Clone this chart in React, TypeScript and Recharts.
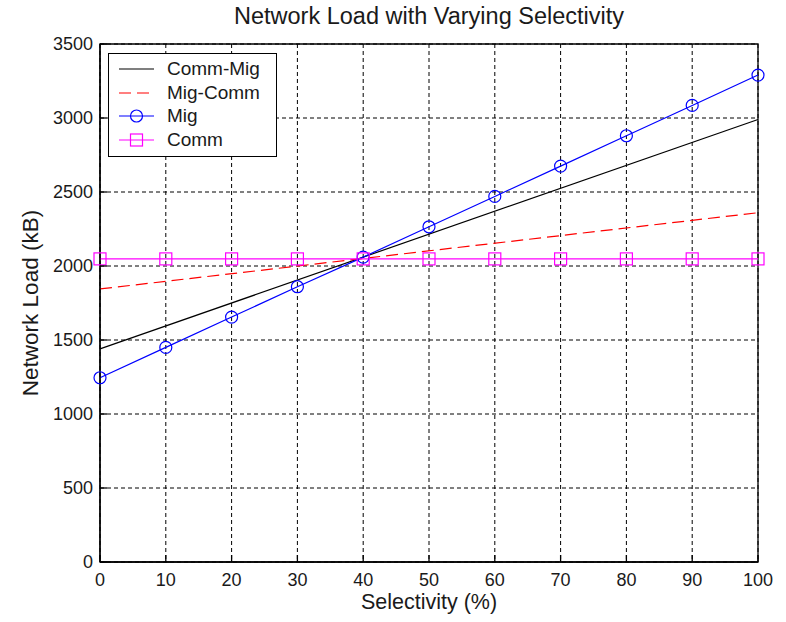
import {
  LineChart,
  Line,
  XAxis,
  YAxis,
  CartesianGrid,
  Legend,
  ReferenceArea,
} from "recharts";

// selectivity (%) at which each series was measured
const selectivity = [0, 10, 20, 30, 40, 50, 60, 70, 80, 90, 100];
const migLoad = [1245, 1450, 1655, 1860, 2060, 2265, 2470, 2675, 2880, 3085, 3290];
const commLoad = [2048, 2048, 2048, 2048, 2048, 2048, 2048, 2048, 2048, 2048, 2048];

// hybrid strategies are straight lines between the two ends
const commMigEnds = [
  { x: 0, y: 1440 },
  { x: 100, y: 2990 },
];
const migCommEnds = [
  { x: 0, y: 1845 },
  { x: 100, y: 2360 },
];

const xTicks = [0, 10, 20, 30, 40, 50, 60, 70, 80, 90, 100];
const yTicks = [0, 500, 1000, 1500, 2000, 2500, 3000, 3500];

const migData = selectivity.map((x, i) => ({ x, y: migLoad[i] }));
const commData = selectivity.map((x, i) => ({ x, y: commLoad[i] }));

const W = 786;
const H = 622;
const LEFT = 100;
const RIGHT = 758;
const TOP = 44;
const BOTTOM = 562;
const TICK_LEN = 7;
const FONT = "'Liberation Sans', Arial, sans-serif";
const INK = "#1a1a1a";

const BottomTick = ({ x, payload }: any) => (
  <g>
    <line x1={x} x2={x} y1={BOTTOM} y2={BOTTOM - TICK_LEN} stroke="#000" strokeWidth={1.3} />
    <text x={x} y={BOTTOM + 24} textAnchor="middle" fontSize={18} fill={INK} fontFamily={FONT}>
      {payload.value}
    </text>
  </g>
);

const TopTick = ({ x }: any) => (
  <line x1={x} x2={x} y1={TOP} y2={TOP + TICK_LEN} stroke="#000" strokeWidth={1.3} />
);

const LeftTick = ({ y, payload }: any) => (
  <g>
    <line x1={LEFT} x2={LEFT + TICK_LEN} y1={y} y2={y} stroke="#000" strokeWidth={1.3} />
    <text x={LEFT - 7} y={y + 6} textAnchor="end" fontSize={18} fill={INK} fontFamily={FONT}>
      {payload.value}
    </text>
  </g>
);

const RightTick = ({ y }: any) => (
  <line x1={RIGHT} x2={RIGHT - TICK_LEN} y1={y} y2={y} stroke="#000" strokeWidth={1.3} />
);

const Circle = ({ cx, cy, index }: any) => (
  <circle key={`c${index}`} cx={cx} cy={cy} r={6} fill="none" stroke="#0000ff" strokeWidth={1.2} />
);

const Square = ({ cx, cy, index }: any) => (
  <rect
    key={`s${index}`}
    x={cx - 6}
    y={cy - 6}
    width={12}
    height={12}
    fill="none"
    stroke="#ff00ff"
    strokeWidth={1.2}
  />
);

const legendItems = [
  { name: "Comm-Mig", color: "#000000", dash: undefined, marker: null },
  { name: "Mig-Comm", color: "#ff0000", dash: "12 6", marker: null },
  { name: "Mig", color: "#0000ff", dash: undefined, marker: "circle" },
  { name: "Comm", color: "#ff00ff", dash: undefined, marker: "square" },
];

const LegendBox = () => (
  <div
    style={{
      width: 169,
      height: 104,
      border: "1px solid #000",
      background: "#fff",
      boxSizing: "border-box",
      position: "relative",
    }}
  >
    {legendItems.map((item, i) => (
      <div
        key={item.name}
        style={{ position: "absolute", left: 0, top: 4 + i * 23.7, height: 22, width: 169 }}
      >
        <svg width={50} height={22} style={{ position: "absolute", left: 8, top: 0 }}>
          <line x1={2} x2={37} y1={11} y2={11} stroke={item.color} strokeWidth={1.2} strokeDasharray={item.dash} />
          {item.marker === "circle" && (
            <circle cx={19.5} cy={11} r={6} fill="none" stroke={item.color} strokeWidth={1.2} />
          )}
          {item.marker === "square" && (
            <rect x={13.5} y={5} width={12} height={12} fill="none" stroke={item.color} strokeWidth={1.2} />
          )}
        </svg>
        <span
          style={{
            position: "absolute",
            left: 58,
            top: 0,
            fontFamily: FONT,
            fontSize: 19,
            lineHeight: "22px",
            color: INK,
          }}
        >
          {item.name}
        </span>
      </div>
    ))}
  </div>
);

export default function App() {
  return (
    <div style={{ position: "absolute", left: 0, top: 0, width: W, height: H, background: "#fff" }}>
      <LineChart width={W} height={H} margin={{ top: TOP, right: W - RIGHT, bottom: 0, left: 0 }}>
        <CartesianGrid
          xAxisId="bottom"
          yAxisId="left"
          stroke="#000"
          strokeDasharray="4 3"
          horizontalValues={yTicks}
          verticalValues={xTicks}
        />
        {/* solid frame around the plot area */}
        <ReferenceArea
          xAxisId="bottom"
          yAxisId="left"
          x1={0}
          x2={100}
          y1={0}
          y2={3500}
          fill="none"
          fillOpacity={0}
          stroke="#000"
          strokeWidth={1.3}
          strokeOpacity={1}
          ifOverflow="visible"
        />
        <XAxis
          xAxisId="bottom"
          type="number"
          dataKey="x"
          domain={[0, 100]}
          ticks={xTicks}
          height={H - BOTTOM}
          tick={<BottomTick />}
          tickLine={false}
          axisLine={{ stroke: "#000", strokeWidth: 1.3 }}
        />
        <XAxis
          xAxisId="top"
          orientation="top"
          type="number"
          dataKey="x"
          domain={[0, 100]}
          ticks={xTicks}
          height={0}
          tick={<TopTick />}
          tickLine={false}
          axisLine={false}
        />
        <YAxis
          yAxisId="left"
          type="number"
          domain={[0, 3500]}
          ticks={yTicks}
          width={LEFT}
          tick={<LeftTick />}
          tickLine={false}
          axisLine={{ stroke: "#000", strokeWidth: 1.3 }}
        />
        <YAxis
          yAxisId="right"
          orientation="right"
          type="number"
          domain={[0, 3500]}
          ticks={yTicks}
          width={0}
          tick={<RightTick />}
          tickLine={false}
          axisLine={false}
        />
        <Legend
          layout="vertical"
          align="center"
          verticalAlign="middle"
          wrapperStyle={{ left: 108, top: 53, width: 169 }}
          content={() => <LegendBox />}
        />
        <Line
          xAxisId="bottom"
          yAxisId="left"
          data={commMigEnds}
          dataKey="y"
          name="Comm-Mig"
          stroke="#000000"
          strokeWidth={1.2}
          dot={false}
          isAnimationActive={false}
        />
        <Line
          xAxisId="bottom"
          yAxisId="left"
          data={migCommEnds}
          dataKey="y"
          name="Mig-Comm"
          stroke="#ff0000"
          strokeWidth={1.2}
          strokeDasharray="12 6"
          dot={false}
          isAnimationActive={false}
        />
        <Line
          xAxisId="bottom"
          yAxisId="left"
          data={migData}
          dataKey="y"
          name="Mig"
          stroke="#0000ff"
          strokeWidth={1.2}
          dot={Circle}
          isAnimationActive={false}
        />
        <Line
          xAxisId="bottom"
          yAxisId="left"
          data={commData}
          dataKey="y"
          name="Comm"
          stroke="#ff00ff"
          strokeWidth={1.2}
          dot={Square}
          isAnimationActive={false}
        />
      </LineChart>
      <div
        style={{
          position: "absolute",
          left: 0,
          width: W,
          top: 3,
          textAlign: "center",
          paddingLeft: 72,
          boxSizing: "border-box",
          fontFamily: FONT,
          fontSize: 23.5,
          color: INK,
        }}
      >
        Network Load with Varying Selectivity
      </div>
      <div
        style={{
          position: "absolute",
          left: LEFT,
          width: RIGHT - LEFT,
          top: 590,
          textAlign: "center",
          fontFamily: FONT,
          fontSize: 21.5,
          color: INK,
        }}
      >
        Selectivity (%)
      </div>
      <div
        style={{
          position: "absolute",
          left: 31,
          top: (TOP + BOTTOM) / 2,
          transform: "translate(-50%, -50%) rotate(-90deg)",
          whiteSpace: "nowrap",
          fontFamily: FONT,
          fontSize: 22.5,
          color: INK,
        }}
      >
        Network Load (kB)
      </div>
    </div>
  );
}
